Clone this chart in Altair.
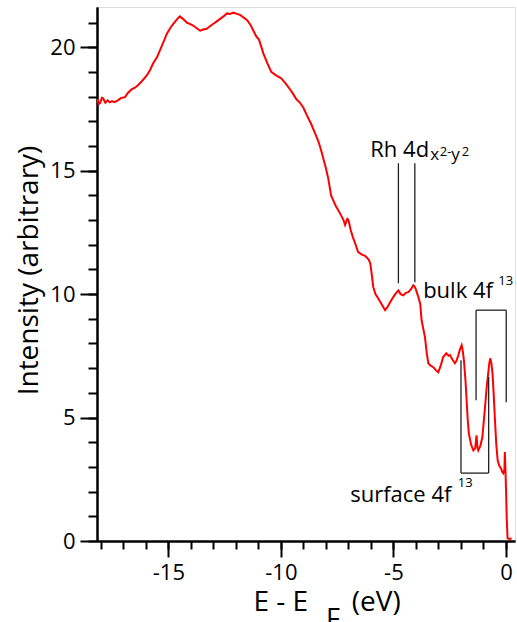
import altair as alt
import pandas as pd

# ---- spectrum ----
energy = [-18.15, -18.10, -18.04, -17.95, -17.90, -17.80, -17.70, -17.60, -17.50, -17.40,
          -17.24, -17.10, -16.93, -16.80, -16.62, -16.50, -16.35, -16.20, -15.95, -15.80,
          -15.68, -15.50, -15.37, -15.20, -15.06, -14.90, -14.78, -14.60, -14.49, -14.35,
          -14.18, -14.05, -13.90, -13.75, -13.59, -13.45, -13.30, -13.15, -13.00, -12.85,
          -12.70, -12.55, -12.40, -12.25, -12.12, -11.95, -11.80, -11.65, -11.50, -11.35,
          -11.23, -11.10, -10.97, -10.78, -10.60, -10.43, -10.20, -10.00, -9.80, -9.60,
          -9.45, -9.32, -9.15, -9.00, -8.85, -8.66, -8.50, -8.34, -8.22, -8.12,
          -8.00, -7.90, -7.77, -7.65, -7.55, -7.45, -7.33, -7.22, -7.15, -7.05,
          -7.00, -6.90, -6.80, -6.68, -6.57, -6.40, -6.26, -6.10, -6.03, -5.95,
          -5.90, -5.80, -5.68, -5.50, -5.37, -5.25, -5.15, -5.03, -4.92, -4.78,
          -4.68, -4.56, -4.45, -4.34, -4.22, -4.12, -4.05, -3.99, -3.90, -3.81,
          -3.75, -3.60, -3.52, -3.45, -3.35, -3.23, -3.10, -3.01, -2.90, -2.79,
          -2.65, -2.55, -2.49, -2.38, -2.27, -2.20, -2.12, -2.05, -1.97, -1.92,
          -1.87, -1.80, -1.75, -1.70, -1.65, -1.55, -1.45, -1.37, -1.31, -1.27,
          -1.23, -1.14, -1.05, -0.93, -0.85, -0.79, -0.74, -0.70, -0.65, -0.60,
          -0.55, -0.49, -0.43, -0.37, -0.30, -0.22, -0.17, -0.12, -0.07, -0.05,
          -0.02, 0.01, 0.03, 0.07, 0.15, 0.25]
intensity = [17.90, 17.70, 17.73, 17.95, 17.93, 17.75, 17.85, 17.77, 17.82, 17.78,
             17.85, 17.95, 17.97, 18.15, 18.30, 18.35, 18.46, 18.60, 18.87, 19.10,
             19.34, 19.60, 19.88, 20.25, 20.56, 20.80, 20.95, 21.15, 21.25, 21.15,
             21.00, 20.95, 20.88, 20.78, 20.67, 20.72, 20.75, 20.85, 20.95, 21.05,
             21.15, 21.25, 21.37, 21.35, 21.40, 21.35, 21.30, 21.20, 21.10, 20.90,
             20.69, 20.45, 20.30, 19.75, 19.35, 19.00, 18.85, 18.75, 18.55, 18.30,
             18.10, 17.90, 17.75, 17.55, 17.25, 16.90, 16.55, 16.20, 15.85, 15.50,
             15.10, 14.70, 14.00, 13.75, 13.55, 13.40, 13.20, 13.00, 12.80, 13.05,
             13.00, 12.60, 12.30, 12.00, 11.70, 11.60, 11.55, 11.40, 11.25, 10.70,
             10.30, 10.00, 9.83, 9.55, 9.35, 9.50, 9.67, 9.85, 10.00, 10.15,
             10.00, 9.95, 10.05, 10.08, 10.20, 10.36, 10.30, 10.15, 9.90, 9.60,
             8.94, 8.26, 7.60, 7.20, 7.10, 7.04, 6.90, 6.83, 7.10, 7.45,
             7.60, 7.50, 7.53, 7.35, 7.20, 7.30, 7.52, 7.75, 7.93, 7.70,
             7.32, 6.50, 5.70, 4.90, 4.35, 3.90, 3.67, 3.75, 4.28, 3.80,
             3.67, 3.85, 4.20, 5.43, 6.30, 6.80, 7.20, 7.40, 7.20, 6.80,
             6.00, 4.89, 3.90, 3.27, 3.05, 2.94, 2.80, 2.74, 2.90, 3.60,
             2.75, 1.80, 0.97, 0.11, 0.08, 0.10]

# ---- annotation segments (data coordinates) ----
seg_x = [-4.78, -4.05, -1.33, -1.33, 0.01, -2.00, -2.00, -0.77]
seg_y = [15.30, 15.30, 9.35, 9.35, 9.35, 7.32, 2.75, 2.75]
seg_x2 = [-4.78, -4.05, 0.01, -1.33, 0.01, -2.00, -0.77, -0.77]
seg_y2 = [10.44, 10.48, 9.35, 5.70, 5.62, 2.75, 2.75, 6.64]

# ---- labels ----
label_text = ["Rh 4d", "bulk 4f", "surface 4f"]
label_x = [-6.03, -3.68, -6.92]
label_y = [15.56, 9.83, 1.57]

sub_text = ["x", "y"]
sub_x = [-3.37, -2.43]
sub_y = [15.42, 15.42]

sup_text = ["2-", "2", "13", "13"]
sup_x = [-2.94, -1.97, -0.34, -2.14]
sup_y = [15.60, 15.60, 10.38, 2.18]

major_x = [-15, -10, -5, 0]
minor_x = list(range(-18, 1))
major_y = [0, 5, 10, 15, 20]
minor_y = list(range(0, 22))

FONT = "Open Sans"

curve = pd.DataFrame({"E": energy, "I": intensity})
segs = pd.DataFrame({"x": seg_x, "y": seg_y, "x2": seg_x2, "y2": seg_y2})
labels = pd.DataFrame({"t": label_text, "x": label_x, "y": label_y})
subs = pd.DataFrame({"t": sub_text, "x": sub_x, "y": sub_y})
sups = pd.DataFrame({"t": sup_text, "x": sup_x, "y": sup_y})
sub_f = pd.DataFrame({"t": ["F"]})

x_scale = alt.Scale(domain=[-18.17, 0.40], nice=False, zero=False)
y_scale = alt.Scale(domain=[0, 21.63], nice=False, zero=False)

common = dict(tickWidth=2, tickColor="black", domainColor="black", domainWidth=2, grid=False)

x_axis = alt.Axis(
    values=major_x, orient="bottom", tickSize=16, labelExpr="toString(datum.value)",
    labelFont=FONT, labelFontSize=22, labelColor="black", labelPadding=5,
    labelFlush=False, labelOverlap=False,
    title="E - E\u00a0\u00a0\u00a0\u00a0\u00a0\u00a0(eV)",
    titleFont=FONT, titleFontSize=28, titleFontWeight="normal", titleColor="black",
    titleX=156, titleY=69, titleAlign="left", titleAnchor="start", titleBaseline="alphabetic",
    **common,
)
y_axis = alt.Axis(
    values=major_y, orient="left", tickSize=17, labelExpr="toString(datum.value)",
    labelFont=FONT, labelFontSize=22, labelColor="black", labelPadding=5,
    labelFlush=False, labelOverlap=False,
    title="Intensity (arbitrary)",
    titleFont=FONT, titleFontSize=28, titleFontWeight="normal", titleColor="black",
    titleX=-60, titleY=263, titleAngle=270, titleAlign="center", titleBaseline="alphabetic",
    **common,
)
x_minor = alt.Axis(values=minor_x, orient="bottom", tickSize=8, labels=False, title=None, **common)
y_minor = alt.Axis(values=minor_y, orient="left", tickSize=9, labels=False, title=None, **common)

line = alt.Chart(curve).mark_line(color="#ff0000", strokeWidth=2).encode(
    x=alt.X("E:Q", scale=x_scale, axis=x_axis),
    y=alt.Y("I:Q", scale=y_scale, axis=y_axis),
)

minor = alt.Chart(curve).mark_line(opacity=0).encode(
    x=alt.X("E:Q", scale=x_scale, axis=x_minor),
    y=alt.Y("I:Q", scale=y_scale, axis=y_minor),
)

rules = alt.Chart(segs).mark_rule(color="#222222", strokeWidth=1.3).encode(
    x=alt.X("x:Q", scale=x_scale, axis=None), y=alt.Y("y:Q", scale=y_scale, axis=None),
    x2="x2:Q", y2="y2:Q",
)

big = alt.Chart(labels).mark_text(font=FONT, fontSize=22, align="left",
                                  baseline="alphabetic", color="black").encode(
    x=alt.X("x:Q", scale=x_scale, axis=None), y=alt.Y("y:Q", scale=y_scale, axis=None), text="t:N")

sub = alt.Chart(subs).mark_text(font=FONT, fontSize=17, align="left",
                                baseline="alphabetic", color="black").encode(
    x=alt.X("x:Q", scale=x_scale, axis=None), y=alt.Y("y:Q", scale=y_scale, axis=None), text="t:N")

sup = alt.Chart(sups).mark_text(font=FONT, fontSize=13, align="left",
                                baseline="alphabetic", color="black").encode(
    x=alt.X("x:Q", scale=x_scale, axis=None), y=alt.Y("y:Q", scale=y_scale, axis=None), text="t:N")

fsub = alt.Chart(sub_f).mark_text(font=FONT, fontSize=27, align="left",
                                  baseline="alphabetic", color="black").encode(
    x=alt.value(229), y=alt.value(621), text="t:N")

chart = alt.layer(minor, line, rules, big, sub, sup, fsub).resolve_axis(
    x="independent", y="independent"
).properties(
    width=418, height=534,
    autosize=alt.AutoSizeParams(type="none"),
    padding={"left": 97, "top": 7, "right": 2, "bottom": 81},
).configure_view(stroke="black", strokeWidth=2).configure(background="white")

chart.save("out.html", embed_options={"renderer": "svg", "actions": False})
